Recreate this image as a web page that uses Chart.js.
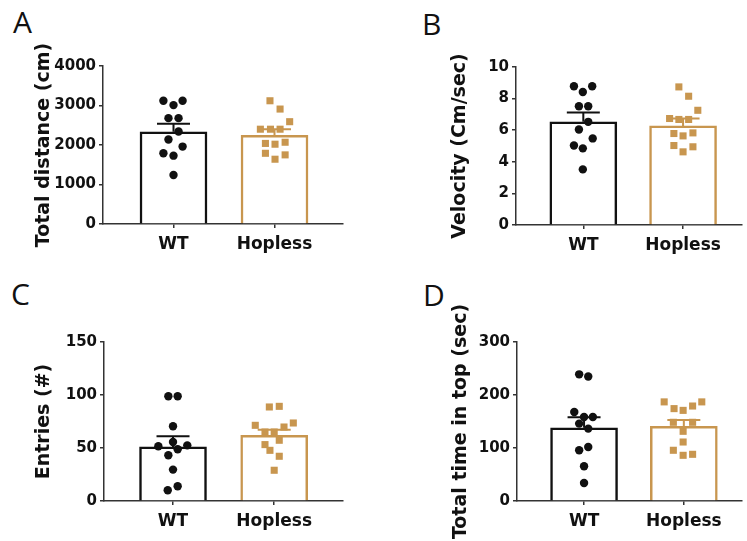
<!DOCTYPE html>
<html><head><meta charset="utf-8">
<script src="https://cdn.jsdelivr.net/npm/chart.js@4/dist/chart.umd.min.js"></script>
<style>
html,body{margin:0;padding:0;background:#fff;width:747px;height:541px;overflow:hidden;}
canvas{position:absolute;}
.letter{position:absolute;font-family:"Open Sans",sans-serif;font-size:30px;color:#111;line-height:1;}
</style></head><body>
<div class="letter" style="left:13px;top:7px">A</div>
<div class="letter" style="left:422px;top:9px">B</div>
<div class="letter" style="left:11px;top:279px">C</div>
<div class="letter" style="left:423px;top:280px">D</div>
<canvas id="cA" width="374" height="270" style="left:0;top:0"></canvas>
<canvas id="cB" width="373" height="270" style="left:374px;top:0"></canvas>
<canvas id="cC" width="374" height="271" style="left:0;top:270px"></canvas>
<canvas id="cD" width="373" height="271" style="left:374px;top:270px"></canvas>
<script>
const categories = ['WT', 'Hopless'];

// Panel A: Total distance (cm)
const distWT = [3120, 3010, 3120, 2680, 2680, 2340, 2140, 1960, 1790, 1730, 1240];
const distWTJitter = [-0.1, 0, 0.09, -0.05, 0.05, 0.05, -0.05, 0.09, -0.1, 0, 0];
const distHop = [3120, 2910, 2590, 2400, 2400, 2400, 2040, 2020, 2070, 1790, 1640, 1750];
const distHopJitter = [-0.045, 0.055, 0.15, -0.14, -0.04, 0.055, -0.09, 0.005, 0.105, -0.09, 0.005, 0.105];
const distMean = [2335, 2245];
const distSEM = [200, 155];
const distTicks = [0, 1000, 2000, 3000, 4000];

// Panel B: Velocity (Cm/sec)
const velWT = [8.78, 8.42, 8.78, 7.52, 7.52, 6.53, 6.04, 5.48, 5.03, 4.85, 3.52];
const velWTJitter = [-0.094, -0.005, 0.089, -0.044, 0.049, 0.049, -0.044, 0.094, -0.094, -0.005, -0.005];
const velHop = [8.74, 8.15, 7.26, 6.74, 6.68, 6.68, 5.79, 5.64, 5.83, 5.03, 4.63, 4.95];
const velHopJitter = [-0.042, 0.056, 0.148, -0.135, -0.042, 0.056, -0.092, 0, 0.099, -0.092, 0, 0.099];
const velMean = [6.53, 6.27];
const velSEM = [0.59, 0.47];
const velTicks = [0, 2, 4, 6, 8, 10];

// Panel C: Entries (#)
const entWT = [98.8, 98.8, 70.5, 51.6, 55.7, 52.5, 48.8, 43.1, 29.6, 13.9, 10.1];
const entWTJitter = [-0.046, 0.046, 0, -0.145, 0, 0.141, 0.046, -0.046, 0, 0.046, -0.052];
const entHop = [88.7, 89.3, 71.4, 69.8, 73.6, 65.1, 65.1, 57.3, 53.2, 47.8, 42.2, 29.0];
const entHopJitter = [-0.048, 0.05, -0.187, 0.097, 0.189, -0.091, 0, 0.05, -0.091, -0.042, 0.05, 0];
const entMean = [51, 62];
const entSEM = [10, 5.3];
const entTicks = [0, 50, 100, 150];

// Panel D: Total time in top (sec)
const topWT = [239, 235, 168, 158.5, 158.5, 146, 136.6, 95.7, 102, 65.5, 34];
const topWTJitter = [-0.049, 0.042, -0.098, 0, 0.088, -0.049, 0.042, -0.049, 0.042, 0, 0];
const topHop = [187, 174.3, 171, 179.2, 187, 148.5, 148.5, 131.5, 111.3, 95.7, 86.2, 88.1];
const topHopJitter = [-0.197, -0.098, -0.007, 0.088, 0.18, -0.105, 0.088, -0.007, -0.007, -0.105, -0.007, 0.088];
const topMean = [138, 141];
const topSEM = [20, 12];
const topTicks = [0, 100, 200, 300];

const BLACK = '#111111';
const TAN = '#C8964F';
const AXIS = '#333333';
const groupColors = [BLACK, TAN];

function makePanel(id, p) {
  const errorBars = {
    id: 'errorBars' + id,
    afterDatasetDraw(chart, args) {
      if (args.index !== 0) return;
      const ctx = chart.ctx, x = chart.scales.x, y = chart.scales.y;
      ctx.save();
      ctx.lineWidth = 2;
      p.mean.forEach((m, i) => {
        const px = x.getPixelForValue(i);
        const yM = y.getPixelForValue(m);
        const yT = y.getPixelForValue(m + p.sem[i]);
        ctx.strokeStyle = groupColors[i];
        ctx.beginPath();
        ctx.moveTo(px, yM); ctx.lineTo(px, yT);
        ctx.moveTo(px - 16.5, yT); ctx.lineTo(px + 16.5, yT);
        ctx.stroke();
      });
      ctx.restore();
    }
  };
  const gridCfg = {display: true, drawOnChartArea: false, drawTicks: true, tickLength: 4, color: AXIS, lineWidth: 1.5, offset: false};
  const borderCfg = {display: true, color: AXIS, width: 1.5};
  new Chart(document.getElementById(id), {
    type: 'bar',
    data: {
      datasets: [
        {type: 'bar', data: categories.map((c, i) => ({x: i, y: p.mean[i]})),
         backgroundColor: '#ffffff', borderColor: groupColors, borderWidth: 2.5,
         barThickness: 67, order: 2},
        {type: 'scatter', data: p.wt.map((v, i) => ({x: 0 + p.wtJ[i], y: v})),
         pointStyle: 'circle', pointRadius: 4.2, backgroundColor: BLACK, borderWidth: 0, order: 1},
        {type: 'scatter', data: p.hop.map((v, i) => ({x: 1 + p.hopJ[i], y: v})),
         pointStyle: 'rect', pointRadius: 5, backgroundColor: TAN, borderWidth: 0, order: 1}
      ]
    },
    options: {
      responsive: false, animation: false, events: [],
      layout: {padding: {left: 0, top: p.top, right: p.right, bottom: 0}},
      plugins: {legend: {display: false}, tooltip: {enabled: false}},
      scales: {
        x: {
          type: 'linear', min: p.xmin, max: p.xmax, offset: false,
          grid: gridCfg, border: borderCfg,
          afterBuildTicks: s => { s.ticks = categories.map((c, i) => ({value: i})); },
          afterFit: s => { s.height = p.xH; },
          ticks: {autoSkip: false, maxRotation: 0, minRotation: 0, padding: 6, color: '#111',
                  font: {family: 'DejaVu Sans', weight: 'bold', size: 17},
                  callback: v => categories[v]}
        },
        y: {
          type: 'linear', min: 0, max: p.ticks[p.ticks.length - 1],
          grid: gridCfg, border: borderCfg,
          afterBuildTicks: s => { s.ticks = p.ticks.map(v => ({value: v})); },
          afterFit: s => { s.width = p.yW; },
          ticks: {padding: 3, color: '#111', font: {family: 'DejaVu Sans', weight: 'bold', size: 15},
                  callback: v => String(v)},
          title: {display: true, text: p.title, color: '#111',
                  font: {family: 'DejaVu Sans', weight: 'bold', size: 19},
                  padding: {top: p.titlePad, bottom: 0}}
        }
      }
    },
    plugins: [errorBars]
  });
}

makePanel('cA', {wt: distWT, wtJ: distWTJitter, hop: distHop, hopJ: distHopJitter, mean: distMean, sem: distSEM,
  ticks: distTicks, title: 'Total distance (cm)', xmin: -0.698, xmax: 1.678, top: 66, right: 31, xH: 46, yW: 103, titlePad: 33});
makePanel('cB', {wt: velWT, wtJ: velWTJitter, hop: velHop, hopJ: velHopJitter, mean: velMean, sem: velSEM,
  ticks: velTicks, title: 'Velocity (Cm/sec)', xmin: -0.675, xmax: 1.591, top: 67, right: 1, xH: 45, yW: 142, titlePad: 75});
makePanel('cC', {wt: entWT, wtJ: entWTJitter, hop: entHop, hopJ: entHopJitter, mean: entMean, sem: entSEM,
  ticks: entTicks, title: 'Entries (#)', xmin: -0.682, xmax: 1.68, top: 72, right: 31, xH: 40, yW: 104, titlePad: 33});
makePanel('cD', {wt: topWT, wtJ: topWTJitter, hop: topHop, hopJ: topHopJitter, mean: topMean, sem: topSEM,
  ticks: topTicks, title: 'Total time in top (sec)', xmin: -0.672, xmax: 1.583, top: 72, right: 1, xH: 40, yW: 143, titlePad: 76});
</script>
</body></html>
